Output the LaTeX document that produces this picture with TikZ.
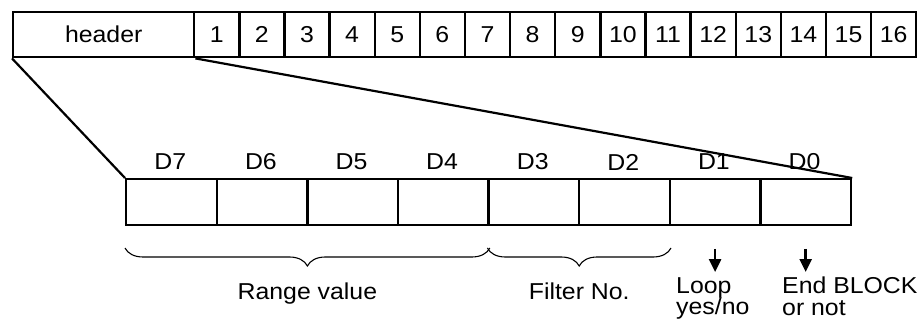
\documentclass[tikz,border=0pt]{standalone}
\usepackage{fontspec}
\setmainfont{Liberation Sans}[FakeStretch=1.08]
\usetikzlibrary{decorations.pathreplacing,arrows.meta}
\begin{document}
\begin{tikzpicture}[x=1pt,y=-1pt,
  cell/.style={draw,line width=2.4pt,minimum height=45pt,inner sep=0pt,anchor=north west,font=\fontsize{23}{23}\selectfont},
  bit/.style={draw,line width=2.4pt,minimum width=90.6pt,minimum height=46pt,inner sep=0pt,anchor=north west},
  lbl/.style={font=\fontsize{23}{23}\selectfont,inner sep=0pt},
  multi/.style={font=\fontsize{23}{21.5}\selectfont,inner sep=0pt,align=left,anchor=north west},
  brc/.style={decorate,decoration={brace,mirror,amplitude=18pt},line width=1.1pt},
  arr/.style={line width=2.6pt,-{Triangle[width=12pt,length=13pt]}}]
\useasboundingbox (0,0) rectangle (921,323);
\node[cell,minimum width=181pt] (header) at (12,11) {header};
\foreach \i in {1,...,16}{
  \node[cell,minimum width=45.125pt] (t\i) at ({193+45.125*(\i-1)},11) {\i};
}
\foreach \k [count=\j from 0] in {7,6,5,4,3,2,1,0}{
  \node[bit] (b\k) at ({125+90.6*\j},178) {};
  \node[lbl] (d\k) at ({125+90.6*\j+45.3},162) {D\k};
}
\draw[line width=2.2pt] (header.south west) -- (b7.north west);
\draw[line width=2.2pt] (header.south east) -- (b0.north east);
\draw[brc] (b7.south west |- 0,248) -- (b4.south east |- 0,248) node[midway,below=34pt,lbl] (range) {Range value};
\draw[brc] (b3.south west |- 0,248) -- (b2.south east |- 0,248) node[midway,below=34pt,lbl] (filter) {Filter No.};
\node[multi] (loop) at (676,277) {Loop\\yes/no};
\node[multi] (endb) at (782,277) {End BLOCK\\or not};
\coordinate (a1) at (b1.south |- 0,249);
\coordinate (a0) at (b0.south |- 0,249);
\draw[arr] (a1) -- (a1 |- 0,272);
\draw[arr] (a0) -- (a0 |- 0,272);
\end{tikzpicture}
\end{document}
